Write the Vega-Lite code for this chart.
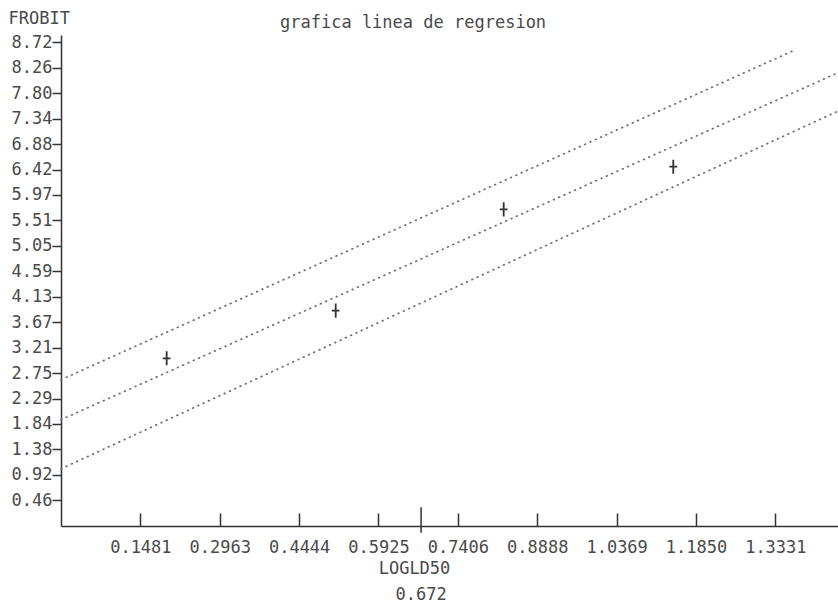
{
  "$schema": "https://vega.github.io/schema/vega-lite/v6.json",
  "width": 777,
  "height": 491,
  "autosize": {"type": "none"},
  "padding": {"left": 61, "top": 35, "right": 0, "bottom": 83},
  "background": "white",
  "config": {
    "view": {"stroke": null},
    "font": "DejaVu Sans Mono",
    "axis": {"labelFont": "DejaVu Sans Mono", "titleFont": "DejaVu Sans Mono"}
  },
  "title": {
    "text": "grafica linea de regresion",
    "anchor": "start",
    "frame": "group",
    "dx": 219,
    "offset": 0,
    "dy": 40,
    "baseline": "bottom",
    "fontSize": 17,
    "fontWeight": "normal",
    "color": "#4a4a4a",
    "font": "DejaVu Sans Mono"
  },
  "datasets": {
    "lines": [
      {"line": "upper", "x": 0.0, "y": 2.637},
      {"line": "upper", "x": 1.3697, "y": 8.58},
      {"line": "regression", "x": 0.0, "y": 1.916},
      {"line": "regression", "x": 1.45, "y": 8.17},
      {"line": "lower", "x": 0.0, "y": 1.031},
      {"line": "lower", "x": 1.45, "y": 7.478}
    ],
    "points": [
      {"logdose": 0.1972, "probit": 3.023},
      {"logdose": 0.5126, "probit": 3.881},
      {"logdose": 0.8261, "probit": 5.708},
      {"logdose": 1.1426, "probit": 6.476}
    ],
    "ld50": [{"logld50": 0.672}]
  },
  "layer": [
    {
      "data": {"name": "lines"},
      "mark": {"type": "line", "stroke": "#707070", "strokeWidth": 1.7, "strokeDash": [0.8, 5], "strokeCap": "round"},
      "encoding": {
        "x": {
          "field": "x", "type": "quantitative",
          "scale": {"domain": [0, 1.45], "nice": false, "zero": false},
          "axis": {
            "values": [0.1481, 0.2963, 0.4444, 0.5925, 0.7406, 0.8888, 1.0369, 1.185, 1.3331],
            "tickCount": 30,
            "format": ".4f",
            "title": "LOGLD50",
            "titleX": 353,
            "titleY": 42,
            "titleBaseline": "middle",
            "titleAlign": "center",
            "titleFontSize": 17,
            "titleFontWeight": "normal",
            "titleColor": "#4a4a4a",
            "labelFontSize": 17,
            "labelColor": "#4a4a4a",
            "labelPadding": 26,
            "labelFlush": false,
            "labelOverlap": false,
            "domainColor": "#333333",
            "domainWidth": 1.5,
            "tickColor": "#333333",
            "tickWidth": 1.5,
            "tickSize": -13,
            "grid": false
          }
        },
        "y": {
          "field": "y", "type": "quantitative",
          "scale": {"domain": [0, 8.85], "nice": false, "zero": false},
          "axis": {
            "values": [0.46, 0.92, 1.38, 1.84, 2.29, 2.75, 3.21, 3.67, 4.13, 4.59, 5.05, 5.51, 5.97, 6.42, 6.88, 7.34, 7.8, 8.26, 8.72],
            "tickCount": 40,
            "format": ".2f",
            "title": "FROBIT",
            "titleAngle": 0,
            "titleAlign": "left",
            "titleBaseline": "bottom",
            "titleX": -53,
            "titleY": -8,
            "titleFontSize": 17,
            "titleFontWeight": "normal",
            "titleColor": "#4a4a4a",
            "labelFontSize": 17,
            "labelColor": "#4a4a4a",
            "labelPadding": 0,
            "labelOverlap": false,
            "labelFlush": false,
            "domainColor": "#333333",
            "domainWidth": 1.5,
            "tickColor": "#333333",
            "tickWidth": 1.5,
            "tickSize": 9,
            "grid": false
          }
        },
        "detail": {"field": "line", "type": "nominal"}
      }
    },
    {
      "data": {"name": "points"},
      "mark": {"type": "point", "shape": "M0,-1V1M-0.55,0H0.55", "filled": false, "stroke": "#333333", "strokeWidth": 1.8, "size": 200, "opacity": 1},
      "encoding": {
        "x": {"field": "logdose", "type": "quantitative"},
        "y": {"field": "probit", "type": "quantitative"}
      }
    },
    {
      "data": {"name": "ld50"},
      "mark": {"type": "rule", "stroke": "#333333", "strokeWidth": 1.5},
      "encoding": {
        "x": {"field": "logld50", "type": "quantitative"},
        "y": {"datum": 0.34},
        "y2": {"datum": -0.12}
      }
    },
    {
      "data": {"name": "ld50"},
      "mark": {"type": "text", "fontSize": 17, "font": "DejaVu Sans Mono", "color": "#4a4a4a", "baseline": "middle", "align": "center", "dy": 69},
      "encoding": {
        "x": {"field": "logld50", "type": "quantitative"},
        "y": {"datum": 0},
        "text": {"field": "logld50", "type": "quantitative", "format": ".3f"}
      }
    }
  ]
}
